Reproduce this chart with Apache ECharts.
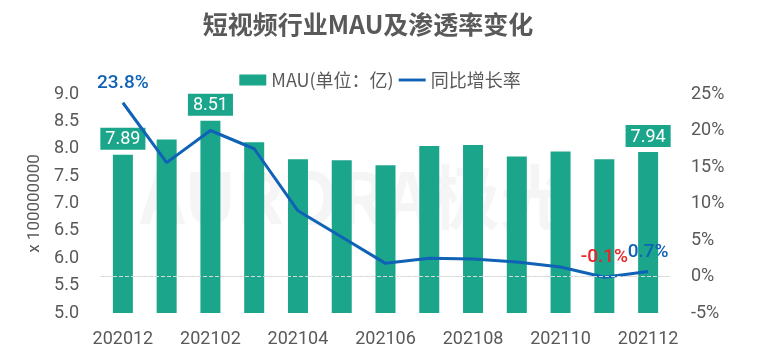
<!DOCTYPE html>
<html><head><meta charset="utf-8">
<script src="https://cdn.jsdelivr.net/npm/echarts@6/dist/echarts.min.js"></script>
<style>html,body{margin:0;padding:0;background:#fff}#c{width:760px;height:360px}</style>
</head><body><div id="c"></div>
<script>
const categories = ['202012','202101','202102','202103','202104','202105','202106','202107','202108','202109','202110','202111','202112'];
const mau = [7.89, 8.17, 8.51, 8.12, 7.81, 7.79, 7.70, 8.05, 8.07, 7.86, 7.95, 7.81, 7.94];
const growth = [23.8, 15.6, 20.0, 17.5, 9.0, 5.4, 1.8, 2.5, 2.4, 2.0, 1.3, -0.1, 0.7];
const mauLabelIdx = [0, 2, 12];
const growthLabelIdx = [0, 11, 12];
const leftTicks = {min: 5, max: 9, interval: 0.5};
const rightTicks = {min: -5, max: 25, interval: 5};

const TEAL = '#1ba58b', BLUE = '#0f62b5', RED = '#e8252b', GRAY = '#595959';
const chart = echarts.init(document.getElementById('c'), null, {renderer: 'canvas'});
chart.setOption({
  animation: false,
  title: {text: '短视频行业MAU及渗透率变化', left: 363, textAlign: 'center', top: 7,
    textStyle: {fontFamily: 'Noto Sans CJK SC', fontWeight: 'bold', fontSize: 25, color: GRAY}},
  legend: {top: 66, left: 'center', itemWidth: 27, itemHeight: 11, itemGap: 5,
    textStyle: {fontFamily: 'Noto Sans CJK SC', fontSize: 18, color: GRAY},
    data: [{name: 'MAU(单位：亿)', icon: 'rect'}, {name: '同比增长率', icon: 'path://M0,0H30V3.2H0Z'}]},
  graphic: [{type: 'text', left: 140, top: 162, z: -10, silent: true,
    style: {text: 'AURORA极光', fontFamily: 'Noto Sans CJK SC', fontWeight: 'bold', fontSize: 70,
      fill: 'rgba(185,185,185,0.15)'}}],
  grid: {left: 101, right: 90, top: 94, bottom: 47},
  xAxis: {type: 'category', data: categories,
    axisLine: {lineStyle: {color: '#e3e3e3', width: 1}}, axisTick: {show: false},
    axisLabel: {interval: 1, color: GRAY, fontSize: 18, fontFamily: 'Roboto', margin: 17}},
  yAxis: [
    {type: 'value', min: leftTicks.min, max: leftTicks.max, interval: leftTicks.interval,
      name: 'x 100000000', nameLocation: 'middle', nameRotate: 90, nameGap: 57,
      nameTextStyle: {color: GRAY, fontSize: 17, fontFamily: 'Roboto'},
      splitLine: {show: false}, axisLine: {show: false}, axisTick: {show: false},
      axisLabel: {color: GRAY, fontSize: 18, fontFamily: 'Roboto', margin: 22,
        formatter: v => v.toFixed(1)}},
    {type: 'value', min: rightTicks.min, max: rightTicks.max, interval: rightTicks.interval,
      splitLine: {show: false}, axisLine: {show: false}, axisTick: {show: false},
      axisLabel: {color: GRAY, fontSize: 18, fontFamily: 'Roboto', margin: 21,
        formatter: '{value}%'}}
  ],
  series: [
    {name: 'MAU(单位：亿)', type: 'bar', barWidth: 20, itemStyle: {color: TEAL},
      data: mau.map((v, i) => ({value: v, label: {show: mauLabelIdx.includes(i)}})),
      label: {position: 'top', distance: 5, color: '#fff', backgroundColor: TEAL,
        padding: [3, 5, 1, 5], fontSize: 18, fontFamily: 'Roboto', formatter: p => p.value.toFixed(2)}},
    {name: '同比增长率', type: 'line', yAxisIndex: 1, symbol: 'circle', symbolSize: 0.01, showSymbol: true,
      lineStyle: {color: BLUE, width: 3}, itemStyle: {color: BLUE},
      data: growth.map((v, i) => ({value: v, label: {show: growthLabelIdx.includes(i), color: v < 0 ? RED : BLUE}})),
      label: {show: false, position: 'top', distance: 10, fontSize: 19, fontWeight: 500, fontFamily: 'Roboto', formatter: p => p.value.toFixed(1) + '%'},
      markLine: {silent: true, symbol: 'none', label: {show: false},
        lineStyle: {color: '#d9d9d9', type: 'dashed', width: 1}, data: [{yAxis: 0}]}}
  ]
});
</script></body></html>
